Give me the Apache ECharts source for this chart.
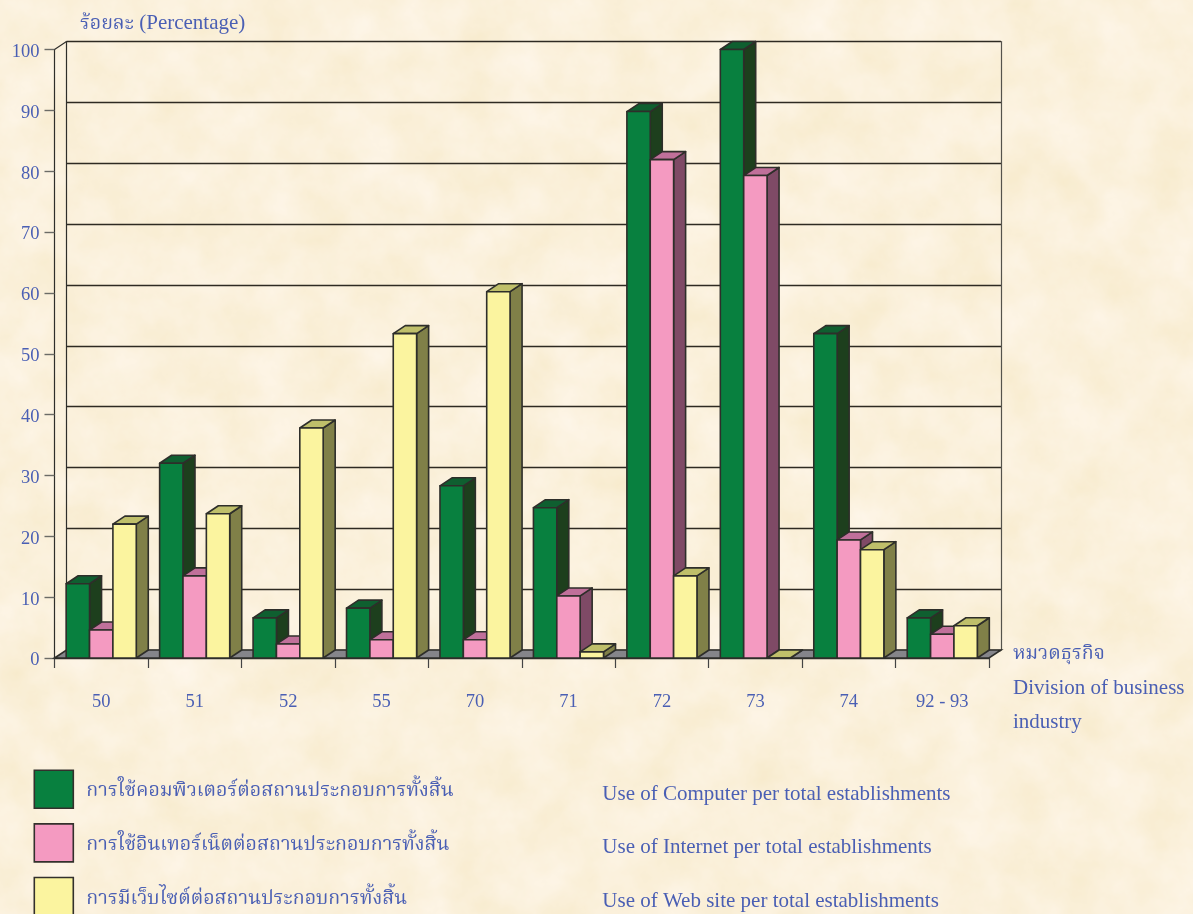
<!DOCTYPE html>
<html><head><meta charset="utf-8">
<style>
html,body{margin:0;padding:0;width:1193px;height:914px;overflow:hidden;
background-color:#fbf1dc;
background-image:url("data:image/svg+xml,%3Csvg xmlns='http://www.w3.org/2000/svg' width='1193' height='914'%3E%3Cfilter id='f' x='0' y='0' width='100%25' height='100%25' color-interpolation-filters='sRGB'%3E%3CfeTurbulence type='fractalNoise' baseFrequency='0.02' numOctaves='5' seed='7'/%3E%3CfeColorMatrix values='0.03 0 0 0 0.968  0.05 0 0 0 0.918  0.13 0 0 0 0.795  0 0 0 0 1'/%3E%3C/filter%3E%3Crect width='1193' height='914' filter='url(%23f)'/%3E%3C/svg%3E");}
#c{width:1193px;height:914px}
</style>
<script src="https://cdn.jsdelivr.net/npm/echarts@6/dist/echarts.min.js"></script>
</head><body><div id="c"></div>
<script>
const categories = ['50','51','52','55','70','71','72','73','74','92 - 93'];
const computerUse = [12.2,32,6.6,8.2,28.3,24.7,89.8,100,53.3,6.6];
const internetUse = [4.6,13.5,2.3,3,3,10.2,81.9,79.3,19.4,3.9];
const websiteUse  = [22,23.7,37.8,53.3,60.2,1,13.5,0,17.8,5.3];
const namesThai = ['การใช้คอมพิวเตอร์ต่อสถานประกอบการทั้งสิ้น','การใช้อินเทอร์เน็ตต่อสถานประกอบการทั้งสิ้น','การมีเว็บไซต์ต่อสถานประกอบการทั้งสิ้น'];
const namesEnglish = ['Use of Computer per total establishments','Use of Internet per total establishments','Use of Web site per total establishments'];
const yTitleThai = 'ร้อยละ';
const yTitleEnglish = '(Percentage)';
const xTitleLines = ['หมวดธุรกิจ','Division of business','industry'];

const TXT='#4a5fb4', FONT='"Liberation Serif","Noto Serif Thai","Noto Sans Thai",serif', FS=18.5, FS_TH=19.6, FS_EN=21;
const DX=12, DY=8, STROKE='#2e2e2a';
const faces=[
 {front:'#08803f',top:'#0f5f30',side:'#1d3f1d'},
 {front:'#f49ac1',top:'#c0709a',side:'#7f4a66'},
 {front:'#fbf49f',top:'#bfbf6a',side:'#808048'}];
const G={left:54.5,top:49.5,width:934.5,height:608.5};

function barRender(idx){
  return function(params,api){
    const band=api.size([1,0])[0], w=band*0.25;
    const p=api.coord([api.value(0),api.value(1)]);
    const base=api.coord([api.value(0),0])[1];
    const x0=p[0]-w*1.5+idx*w, x1=x0+w, y=p[1];
    const st=c=>({fill:c,stroke:STROKE,lineWidth:1.6,lineJoin:'round'});
    const f=faces[idx];
    return {type:'group',children:[
      {type:'polygon',shape:{points:[[x1,y],[x1+DX,y-DY],[x1+DX,base-DY],[x1,base]]},style:st(f.side)},
      {type:'polygon',shape:{points:[[x0,y],[x0+DX,y-DY],[x1+DX,y-DY],[x1,y]]},style:st(f.top)},
      {type:'rect',shape:{x:x0,y:y,width:w,height:base-y},style:st(f.front)}
    ]};
  };
}
function floorRender(params,api){
  const c=params.coordSys, b=c.y+c.height, r=c.x+c.width;
  return {type:'group',children:[
    {type:'polygon',shape:{points:[[c.x,b],[r,b],[r+DX,b-DY],[c.x+DX,b-DY]]},style:{fill:'#85858a',stroke:STROKE,lineWidth:1.6}},
    {type:'line',shape:{x1:c.x,y1:c.y,x2:c.x+DX,y2:c.y-DY},style:{stroke:STROKE,lineWidth:1.2}}
  ]};
}
const mk=(i,vals)=>({name:namesThai[i],type:'custom',xAxisIndex:0,yAxisIndex:0,z:5+i,
  itemStyle:{color:faces[i].front},renderItem:barRender(i),encode:{x:0,y:1},
  data:vals.map((v,k)=>[k,v]),silent:true});

const chart=echarts.init(document.getElementById('c'),null,{width:1193,height:914});
chart.setOption({
  backgroundColor:'transparent',animation:false,
  grid:[Object.assign({},G),{left:G.left+DX,top:G.top-DY,width:G.width,height:G.height}],
  xAxis:[
    {type:'category',gridIndex:0,data:categories,
     axisLine:{lineStyle:{color:STROKE,width:1.4}},
     axisTick:{show:true,length:10,lineStyle:{color:'#444',width:1.2}},
     axisLabel:{color:TXT,fontFamily:FONT,fontSize:FS,margin:35}},
    {type:'category',gridIndex:1,data:categories,show:false}],
  yAxis:[
    {type:'value',gridIndex:0,min:0,max:100,interval:10,
     axisLine:{show:true,lineStyle:{color:STROKE,width:1.2}},
     axisTick:{show:true,length:10,lineStyle:{color:'#6b6b66',width:1.4}},
     axisLabel:{formatter:v=>`{a|${v}}`,margin:15,
       rich:{a:{color:TXT,fontFamily:FONT,fontSize:FS,padding:[5,0,0,0]}}},
     splitLine:{show:false}},
    {type:'value',gridIndex:1,min:0,max:100,interval:10,
     axisLine:{show:true,onZero:false,lineStyle:{color:STROKE,width:1.2}},axisTick:{show:false},axisLabel:{show:false},
     splitLine:{show:true,lineStyle:{color:'#2e2a22',width:1.3}}},
    {type:'value',gridIndex:1,position:'right',min:0,max:100,interval:10,
     axisLine:{show:true,onZero:false,lineStyle:{color:'#55534c',width:1.2}},axisTick:{show:false},axisLabel:{show:false},splitLine:{show:false}}],
  legend:{data:namesThai,orient:'vertical',left:33.5,top:769.5,height:300,padding:0,itemWidth:39,itemHeight:38,itemGap:14,
    selectedMode:false,icon:'rect',
    itemStyle:{borderColor:'#33302c',borderWidth:1.6},
    formatter:n=>`{th|${n}}{en|${namesEnglish[namesThai.indexOf(n)]}}`,
    textStyle:{rich:{
      th:{width:516,padding:[6,0,2,8],fontFamily:FONT,fontSize:FS_TH,color:TXT,align:'left'},
      en:{fontFamily:FONT,fontSize:FS_EN,color:TXT,padding:[10,0,0,0]}}}},
  graphic:[
    {type:'text',left:80,top:13,style:{text:`{t|${yTitleThai}} {e|${yTitleEnglish}}`,font:`${FS_EN}px ${FONT}`,fill:TXT,
      rich:{t:{fontFamily:FONT,fontSize:FS_TH,fill:TXT},e:{fontFamily:FONT,fontSize:FS_EN,fill:TXT}}}},
    ...xTitleLines.map((t,i)=>({type:'text',left:1013,top:644+i*34,style:{text:t,font:`${i===0?FS_TH:FS_EN}px ${FONT}`,fill:TXT}}))
  ],
  series:[
    {type:'custom',name:'floor',xAxisIndex:0,yAxisIndex:0,z:4,renderItem:floorRender,data:[[0,0]],silent:true},
    mk(0,computerUse),mk(1,internetUse),mk(2,websiteUse)]
});
</script></body></html>
